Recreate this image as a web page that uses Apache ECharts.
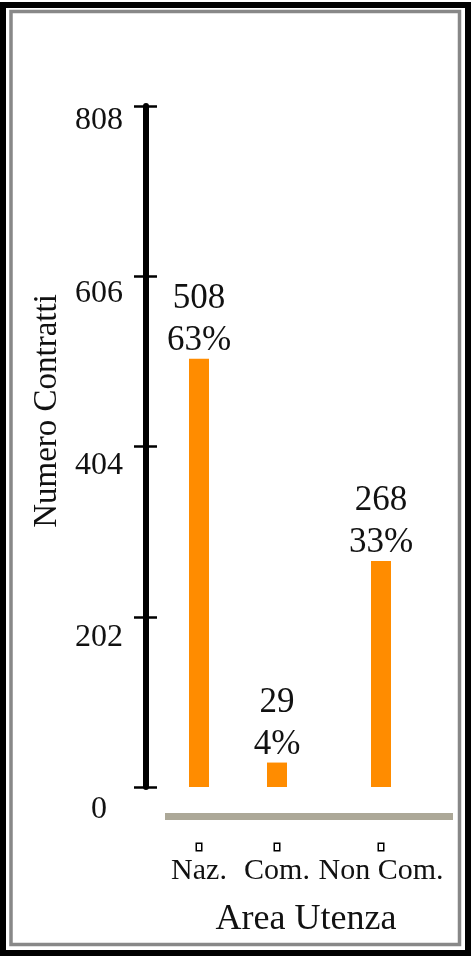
<!DOCTYPE html>
<html>
<head>
<meta charset="utf-8">
<script src="https://cdn.jsdelivr.net/npm/echarts@6/dist/echarts.min.js"></script>
<style>
html,body{margin:0;padding:0;background:#fff;}
#c{width:471px;height:956px;}
</style>
</head>
<body>
<div id="c"></div>
<script>
// ---- data ----
var categories = ['Naz.', 'Com.', 'Non Com.'];
var values = [508, 29, 268];
var shares = ['63%', '4%', '33%'];
var yTicks = [0, 202, 404, 606, 808];
var xTitle = 'Area Utenza';
var yTitle = 'Numero Contratti';

// ---- layout (uneven category spacing: slot of each category on a finer category axis) ----
var slotIndex = [0, 3, 7];
var slotCount = 8;

var slotNames = [], slotValues = [], slotShares = [];
for (var i = 0; i < slotCount; i++) { slotNames.push(''); slotValues.push('-'); slotShares.push(''); }
categories.forEach(function (c, k) {
  slotNames[slotIndex[k]] = c;
  slotValues[slotIndex[k]] = values[k];
  slotShares[slotIndex[k]] = shares[k];
});

var FONT = 'Liberation Serif';
var yMax = yTicks[yTicks.length - 1];
var yStep = yTicks[1] - yTicks[0];

var chart = echarts.init(document.getElementById('c'), null, {renderer: 'canvas'});
chart.setOption({
  backgroundColor: '#fff',
  animation: false,
  grid: [
    {left: 186, width: 208, top: 106, bottom: 169},
    {left: 186, width: 208, top: 121, bottom: 146}
  ],
  xAxis: [
    {
      type: 'category', gridIndex: 0, data: slotNames,
      axisLine: {show: false}, axisTick: {show: false},
      axisLabel: {
        interval: 0, margin: 55,
        formatter: function (v) { return v ? '{b|}\n{t|' + v + '}' : ''; },
        rich: {
          b: {width: 4, height: 6, borderColor: '#000', borderWidth: 1.5, backgroundColor: '#fff', lineHeight: 10, align: 'center'},
          t: {fontFamily: FONT, fontSize: 30, color: '#111', lineHeight: 39, align: 'center'}
        }
      },
      name: xTitle, nameLocation: 'middle', nameGap: 115,
      nameTextStyle: {fontFamily: FONT, fontSize: 36, color: '#111', padding: [0, 0, 0, 32]}
    },
    {type: 'category', gridIndex: 1, data: slotNames, show: false}
  ],
  yAxis: [
    {
      type: 'value', gridIndex: 0, min: 0, max: yMax, interval: yStep, offset: 40, position: 'left',
      axisLine: {show: true, lineStyle: {color: '#000', width: 6}},
      axisTick: {show: true, length: 12, lineStyle: {color: '#000', width: 2.5}},
      axisLabel: {show: false}, splitLine: {show: false},
      name: yTitle, nameLocation: 'middle', nameRotate: 90, nameGap: 82,
      nameTextStyle: {fontFamily: FONT, fontSize: 33, color: '#111', padding: [0, 0, 0, 71]}
    },
    {
      type: 'value', gridIndex: 0, min: 0, max: yMax, interval: yStep, offset: 40, position: 'left',
      axisLine: {show: false},
      axisTick: {show: true, inside: true, length: 11, lineStyle: {color: '#000', width: 2.5}},
      axisLabel: {show: false}, splitLine: {show: false}
    },
    {
      type: 'value', gridIndex: 1, min: 0, max: yMax, interval: yStep, offset: 40, position: 'left',
      axisLine: {show: false}, axisTick: {show: false}, splitLine: {show: false},
      axisLabel: {
        margin: 47, align: 'center', fontFamily: FONT, fontSize: 32, color: '#111',
        formatter: function (v) { return yTicks.indexOf(v) >= 0 ? String(v) : ''; }
      }
    }
  ],
  series: [{
    type: 'bar', xAxisIndex: 0, yAxisIndex: 0,
    data: slotValues, barWidth: 20,
    itemStyle: {color: '#FF8C00'},
    label: {
      show: true, position: 'top', distance: -3,
      fontFamily: FONT, fontSize: 35, lineHeight: 42, color: '#111', align: 'center',
      formatter: function (p) { return p.value + '\n' + slotShares[p.dataIndex]; }
    }
  }],
  graphic: [
    {type: 'rect', shape: {x: 165, y: 813, width: 288, height: 7}, style: {fill: '#ACA898'}, silent: true},
    {type: 'rect', shape: {x: 3, y: 5, width: 465, height: 948}, style: {fill: 'none', stroke: '#000', lineWidth: 6}, silent: true},
    {type: 'rect', shape: {x: 11, y: 11.5, width: 448.5, height: 933}, style: {fill: 'none', stroke: '#888', lineWidth: 3.5}, silent: true}
  ]
});
</script>
</body>
</html>
